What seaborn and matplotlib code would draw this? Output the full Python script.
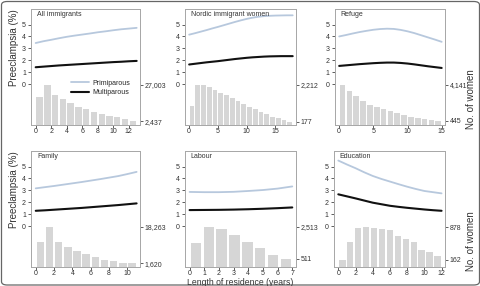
import numpy as np
import pandas as pd
import matplotlib
matplotlib.use("Agg")
import matplotlib.pyplot as plt
import matplotlib.patches as mpatches
from matplotlib.lines import Line2D
import seaborn as sns

sns.set_style("ticks")
plt.rcParams['font.family'] = ['Liberation Sans', 'DejaVu Sans']

# ---------------- data ----------------
titles = ["All immigrants", "Nordic immigrant women", "Refuge",
          "Family", "Labour", "Education"]
ranges = [13, 18, 15, 11, 7, 12]   # length of residence span (years)

prim_all = [3.45, 3.6, 3.72, 3.85, 3.97, 4.07, 4.16, 4.25, 4.35, 4.43, 4.52, 4.6, 4.66, 4.72]
multi_all = [1.42, 1.47, 1.52, 1.57, 1.61, 1.65, 1.69, 1.73, 1.77, 1.81, 1.85, 1.88, 1.92, 1.95]
count_all = [18700, 27003, 20250, 17550, 14600, 12400, 10600, 9000, 7400, 6300, 5200, 4300, 2437]

prim_nordic = [4.15, 4.27, 4.4, 4.53, 4.67, 4.8, 4.94, 5.08, 5.22, 5.35, 5.47, 5.57, 5.65, 5.7,
               5.73, 5.75, 5.76, 5.77, 5.77]
multi_nordic = [1.65, 1.71, 1.77, 1.83, 1.88, 1.93, 1.99, 2.05, 2.11, 2.16, 2.21, 2.25, 2.28,
                2.31, 2.33, 2.34, 2.35, 2.35, 2.35]
count_nordic = [1060, 2212, 2200, 2080, 1960, 1750, 1640, 1500, 1346, 1154, 1000, 865, 711,
                615, 470, 360, 250, 177]

prim_refuge = [4.0, 4.12, 4.25, 4.37, 4.47, 4.56, 4.62, 4.65, 4.63, 4.55, 4.43, 4.28, 4.1,
               3.92, 3.74, 3.55]
multi_refuge = [1.53, 1.58, 1.63, 1.68, 1.72, 1.76, 1.79, 1.81, 1.81, 1.78, 1.73, 1.66, 1.58,
                1.5, 1.43, 1.36]
count_refuge = [4141, 3520, 2970, 2490, 2120, 1830, 1650, 1466, 1210, 1030, 840, 700, 620, 560, 445]

prim_family = [3.17, 3.27, 3.37, 3.48, 3.59, 3.7, 3.82, 3.94, 4.07, 4.2, 4.37, 4.55]
multi_family = [1.29, 1.33, 1.38, 1.43, 1.48, 1.53, 1.59, 1.65, 1.71, 1.77, 1.84, 1.91]
count_family = [11290, 18263, 11290, 9130, 7300, 5980, 4480, 3320, 2660, 1830, 1620]

prim_labour = [2.87, 2.85, 2.85, 2.88, 2.95, 3.03, 3.15, 3.33]
multi_labour = [1.35, 1.36, 1.37, 1.39, 1.42, 1.46, 1.51, 1.57]
count_labour = [1534, 2513, 2405, 2035, 1600, 1164, 773, 511]

prim_edu = [5.5, 5.17, 4.86, 4.52, 4.21, 3.96, 3.74, 3.52, 3.31, 3.12, 2.95, 2.85, 2.75]
multi_edu = [2.67, 2.5, 2.33, 2.15, 1.97, 1.84, 1.71, 1.62, 1.54, 1.47, 1.4, 1.34, 1.29]
count_edu = [162, 551, 847, 878, 847, 831, 816, 683, 605, 551, 380, 333, 240]

prims = [prim_all, prim_nordic, prim_refuge, prim_family, prim_labour, prim_edu]
multis = [multi_all, multi_nordic, multi_refuge, multi_family, multi_labour, multi_edu]
counts = [count_all, count_nordic, count_refuge, count_family, count_labour, count_edu]
xticks = [[0, 2, 4, 6, 8, 10, 12], [0, 5, 10, 15], [0, 5, 10, 15],
          [0, 2, 4, 6, 8, 10], [0, 1, 2, 3, 4, 5, 6, 7], [0, 2, 4, 6, 8, 10, 12]]

# ---------------- layout (pixels) ----------------
W, H = 481, 286
fig = plt.figure(figsize=(W / 100, H / 100), dpi=100)
boxes = [(31.5, 9, 108.5, 116), (185, 9, 111, 116), (335, 9, 110, 116),
         (31.5, 151, 108.5, 116), (185, 151, 111, 116), (334, 151, 111, 116)]

PRIM_C = "#b7c8dd"
MULTI_C = "#111111"
BAR_C = "#d6d6d6"
SPINE_C = "#a8a8a8"
TXT_C = "#333333"
FS = 5

for i in range(6):
    x0, y0, w, h = boxes[i]
    ax = fig.add_axes([x0 / W, (H - y0 - h) / H, w / W, h / H])
    ax2 = ax.twinx()
    L = ranges[i]
    n = len(counts[i])
    yrs = np.arange(L + 1)
    bw = L / n
    centers = (np.arange(n) + 0.5) * bw

    sns.barplot(x=centers, y=counts[i], native_scale=True, ax=ax2, color=BAR_C,
                width=0.82, saturation=1, edgecolor="none", zorder=1)
    sns.lineplot(x=yrs, y=prims[i], ax=ax, color=PRIM_C, lw=1.3)
    sns.lineplot(x=yrs, y=multis[i], ax=ax, color=MULTI_C, lw=1.5)

    pad_l = 0.45 * L / 12
    ax.set_xlim(-pad_l - 0.05, L + 0.35 * L / 12 + 0.05)
    ax2.set_xlim(ax.get_xlim())
    ax.set_ylim(-3.42, 6.3)
    mx = max(counts[i])
    ax2.set_ylim(0, mx * 116 / 40)
    ax.set_yticks([0, 1, 2, 3, 4, 5])
    ax.set_xticks(xticks[i])
    ax2.set_yticks([min(counts[i]), mx])
    ax2.set_yticklabels([f"{min(counts[i]):,}", f"{mx:,}"])
    for a in (ax, ax2):
        a.set_xlabel("")
        a.set_ylabel("")
        a.tick_params(labelsize=FS, length=2.0, width=0.6, colors="#444444",
                      labelcolor=TXT_C, pad=1.5)
        for s in a.spines.values():
            s.set_visible(True)
            s.set_color(SPINE_C)
            s.set_linewidth(0.7)
    ax.tick_params(axis="x", pad=0.4, length=1.8)
    ax.tick_params(axis="y", pad=2)
    ax2.tick_params(axis="y", pad=1.3)
    ax.text(0.05, 0.985, titles[i], transform=ax.transAxes, fontsize=FS,
            color=TXT_C, va="top", ha="left")
    if i == 0:
        handles = [Line2D([], [], color=PRIM_C, lw=1.3),
                   Line2D([], [], color=MULTI_C, lw=1.5)]
        ax2.legend(handles, ["Primiparous", "Multiparous"], fontsize=FS,
                   frameon=False, loc="upper left", bbox_to_anchor=(0.33, 0.42),
                   handlelength=2.6, handletextpad=0.5, labelspacing=0.35,
                   borderpad=0)

# axis labels
fig.text(14 / W, 1 - 48 / H, "Preeclampsia (%)", rotation=90, fontsize=7,
         color=TXT_C, ha="center", va="center")
fig.text(14 / W, 1 - 190 / H, "Preeclampsia (%)", rotation=90, fontsize=7,
         color=TXT_C, ha="center", va="center")
fig.text(471 / W, 1 - 99 / H, "No. of women", rotation=90, fontsize=7,
         color=TXT_C, ha="center", va="center")
fig.text(471 / W, 1 - 241 / H, "No. of women", rotation=90, fontsize=7,
         color=TXT_C, ha="center", va="center")
fig.text(240 / W, 1 - 282.5 / H, "Length of residence (years)", fontsize=6.2,
         color=TXT_C, ha="center", va="center")

# outer frame
frame = mpatches.FancyBboxPatch((1.5 / W, 1.0 / H), 1 - 3 / W, 1 - 2.5 / H,
                                boxstyle="round,pad=0,rounding_size=0.012",
                                transform=fig.transFigure, fill=False,
                                ec="#666666", lw=0.9)
fig.patches.append(frame)

fig.savefig("out.png", dpi=100)
